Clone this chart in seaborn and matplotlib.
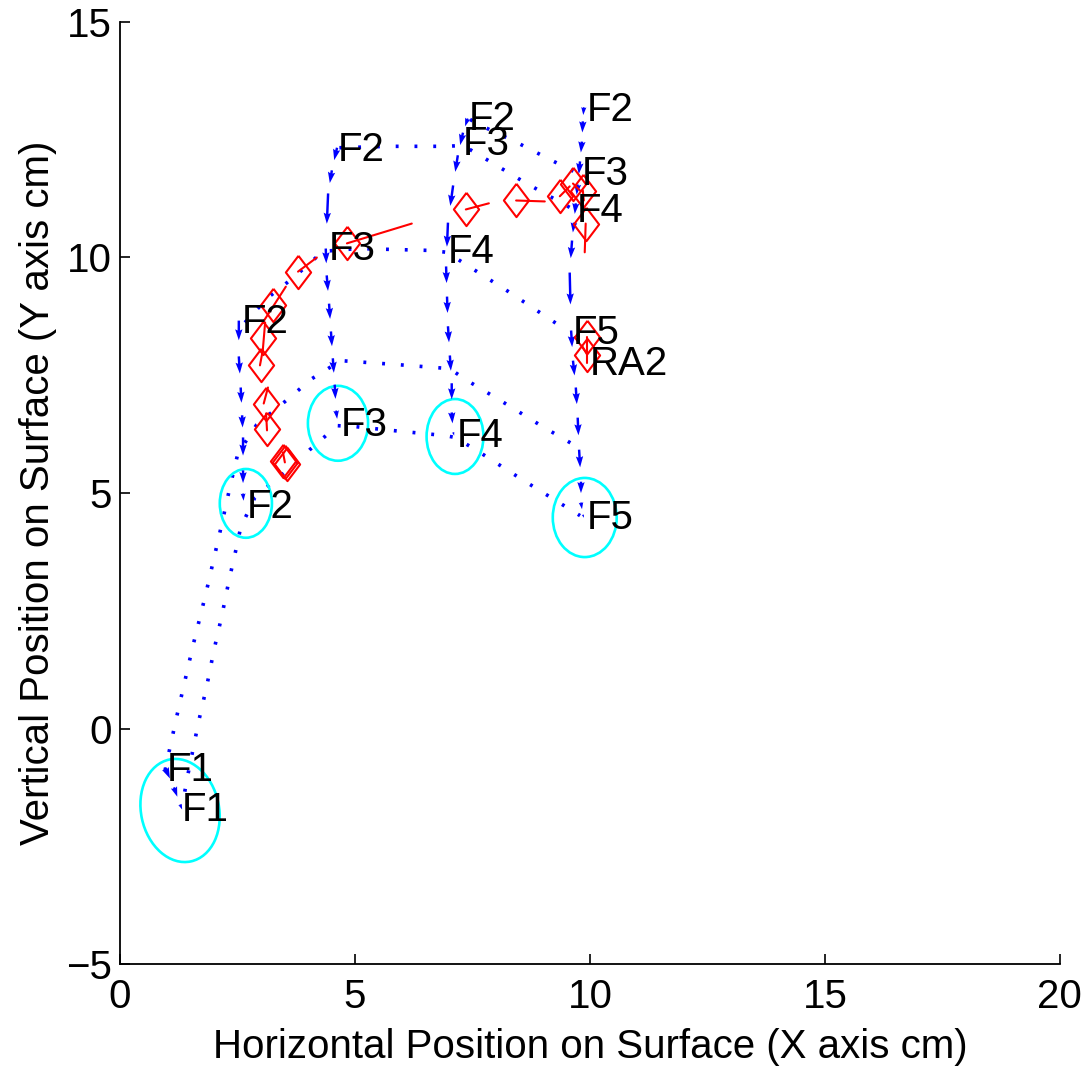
import numpy as np
import pandas as pd
import matplotlib
matplotlib.use("Agg")
import matplotlib.pyplot as plt
from matplotlib.patches import Ellipse
import seaborn as sns

sns.set_style("ticks", rc={"text.color": "black", "axes.labelcolor": "black",
                           "xtick.color": "black", "ytick.color": "black"})
plt.rcParams['font.family'] = ['Liberation Sans', 'DejaVu Sans']

_fontsize = 29

# finger regions (cyan ellipses)
ell_x = [1.28, 2.68, 4.64, 7.13, 9.89]
ell_y = [-1.74, 4.78, 6.48, 6.20, 4.48]
ell_w = [1.66, 1.11, 1.28, 1.21, 1.36]
ell_h = [2.21, 1.46, 1.59, 1.59, 1.68]
ell_ang = [12, 0, 0, 0, 0]

# dotted outlines joining the fingers
D1_x = [0.96, 1.21, 1.55, 1.83, 2.00, 2.17, 2.34, 2.51, 2.91, 3.51, 4.09, 4.70, 5.85, 7.02, 7.32, 8.30, 8.96, 9.68]
D1_y = [-0.89, 0.26, 1.74, 2.87, 3.61, 4.35, 5.12, 5.84, 6.45, 6.94, 7.43, 7.81, 7.73, 7.64, 7.43, 6.84, 6.43, 6.01]
D2_x = [1.38, 1.45, 1.53, 1.68, 1.85, 2.00, 2.17, 2.32, 2.49, 2.57, 2.87, 3.19, 3.77, 4.04, 4.34, 4.62, 5.00, 5.77, 6.91, 7.13, 7.60, 8.55, 9.79]
D2_y = [-1.34, -0.96, -0.57, 0.17, 0.91, 1.66, 2.40, 3.14, 3.89, 4.27, 4.90, 5.18, 5.65, 5.92, 6.18, 6.43, 6.41, 6.33, 6.22, 6.18, 5.90, 5.29, 4.52]
D3_x = [2.66, 3.15, 3.45, 3.77, 4.32, 5.06, 6.60, 6.96, 7.30, 8.26, 9.51]
D3_y = [8.62, 9.15, 9.38, 9.64, 10.13, 10.19, 10.15, 10.11, 9.89, 9.28, 8.45]
D4_x = [4.67, 5.74, 6.96, 7.30, 7.62, 8.62, 9.72]
D4_y = [12.33, 12.36, 12.36, 12.38, 12.19, 11.59, 10.98]
D5_x = [7.45, 7.77, 8.45, 9.15, 9.79]
D5_y = [12.93, 12.76, 12.44, 12.08, 11.76]

# finger trajectories (blue arrows)
T0_x = [0.96, 1.15, 1.28, 1.36]
T0_y = [-0.83, -1.25, -1.61, -1.81]
T1_x = [2.53, 2.53, 2.57, 2.60, 2.62, 2.62, 2.62, 2.64]
T1_y = [8.66, 7.90, 7.24, 6.65, 6.18, 5.48, 4.99, 4.71]
T2_x = [4.62, 4.51, 4.43, 4.38, 4.40, 4.45, 4.49, 4.53, 4.57, 4.60, 4.64]
T2_y = [12.33, 11.85, 11.36, 10.19, 9.62, 9.02, 8.43, 7.86, 7.30, 6.75, 6.43]
T3_x = [7.40, 7.30, 7.19, 7.09, 6.98, 6.94, 6.96, 6.98, 7.02, 7.06, 7.06, 7.09, 7.13]
T3_y = [12.95, 12.65, 12.17, 11.53, 10.74, 9.81, 9.17, 8.54, 7.92, 7.33, 6.71, 6.29, 6.16]
T4_x = [9.87, 9.85, 9.83, 9.79, 9.74, 9.70, 9.66, 9.62, 9.57, 9.60, 9.64, 9.70, 9.74, 9.77, 9.81, 9.81, 9.85, 9.89]
T4_y = [13.19, 12.89, 12.46, 12.04, 11.55, 11.15, 10.74, 10.36, 9.68, 8.45, 7.81, 7.24, 6.60, 5.92, 5.24, 4.80, 4.54, 4.42]

# red diamonds and their direction lines
dia_x = [4.83, 3.79, 3.26, 3.04, 3.00, 3.11, 3.13, 3.47, 3.51, 3.55, 7.36, 8.43, 9.36, 9.64, 9.85, 9.91, 9.94, 9.94]
dia_y = [10.30, 9.70, 9.00, 8.30, 7.71, 6.90, 6.35, 5.69, 5.65, 5.61, 11.02, 11.21, 11.30, 11.57, 11.42, 10.72, 8.32, 7.94]
seg_x0 = [4.83, 3.79, 3.04, 3.04, 2.98, 3.06, 3.13, 3.51, 7.36, 8.43, 9.36, 9.64, 9.85, 9.91, 9.94, 9.94]
seg_y0 = [10.30, 9.70, 8.62, 8.03, 7.71, 6.90, 6.33, 5.65, 11.02, 11.21, 11.30, 11.57, 11.42, 10.72, 8.32, 7.94]
seg_x1 = [6.21, 4.19, 3.53, 3.09, 3.04, 3.15, 3.11, 3.47, 7.85, 9.04, 9.57, 9.79, 9.87, 9.89, 9.94, 9.83]
seg_y1 = [10.72, 10.00, 9.38, 8.62, 8.03, 7.24, 6.69, 5.86, 11.15, 11.19, 11.51, 11.42, 11.21, 10.11, 7.77, 8.13]

# text labels
lab_txt = ["F1", "F1", "F2", "F2", "F2", "F3", "F3", "F2", "F3", "F4", "F4", "F2", "F3", "F4", "F5", "RA2", "F5"]
lab_x = [1.00, 1.32, 2.60, 2.70, 4.64, 4.45, 4.70, 7.43, 7.30, 6.98, 7.17, 9.94, 9.83, 9.72, 9.64, 10.00, 9.94]
lab_y = [-0.89, -1.74, 8.64, 4.71, 12.29, 10.17, 6.45, 12.93, 12.40, 10.11, 6.20, 13.14, 11.78, 10.98, 8.39, 7.73, 4.48]

fig = plt.figure(figsize=(10.9, 10.72), dpi=100)
ax = fig.add_axes([0.110, 0.1007, 0.8624, 0.8788])

outlines = pd.concat([
    pd.DataFrame({"x": cx, "y": cy, "curve": name})
    for name, cx, cy in [("D1", D1_x, D1_y), ("D2", D2_x, D2_y), ("D3", D3_x, D3_y),
                         ("D4", D4_x, D4_y), ("D5", D5_x, D5_y)]
])
sns.lineplot(data=outlines, x="x", y="y", units="curve", estimator=None, sort=False,
             color="blue", lw=2.6, linestyle=(0, (0.8, 4.4)), ax=ax, legend=False)

for cx, cy, w, h, a in zip(ell_x, ell_y, ell_w, ell_h, ell_ang):
    ax.add_patch(Ellipse((cx, cy), w, h, angle=a, fill=False, ec="cyan", lw=1.9, zorder=2))

for tx, ty in [(T0_x, T0_y), (T1_x, T1_y), (T2_x, T2_y), (T3_x, T3_y), (T4_x, T4_y)]:
    tx = np.array(tx); ty = np.array(ty)
    ax.quiver(tx[:-1], ty[:-1], np.diff(tx) * 0.55, np.diff(ty) * 0.55, angles="xy",
              scale_units="xy", scale=1, color="blue", width=0.0026, headwidth=3.0,
              headlength=4.5, headaxislength=4.0, zorder=3)

for x0, y0, x1, y1 in zip(seg_x0, seg_y0, seg_x1, seg_y1):
    ax.plot([x0, x1], [y0, y1], color="red", lw=1.5, zorder=4)
diamond = [(0, 1.32), (1, 0), (0, -1.32), (-1, 0), (0, 1.32)]
ax.plot(dia_x, dia_y, linestyle="none", marker=diamond, ms=24, mfc="none", mec="red", mew=1.5, zorder=4)

for s, tx, ty in zip(lab_txt, lab_x, lab_y):
    ax.text(tx, ty, s, ha="left", va="center", fontsize=_fontsize, color="black", zorder=5)

ax.set_xlim(0, 20)
ax.set_ylim(-5, 15)
ax.set_xticks([0, 5, 10, 15, 20])
ax.set_yticks([-5, 0, 5, 10, 15])
ax.set_yticklabels(["\u22125", "0", "5", "10", "15"])
ax.tick_params(direction="in", length=7, width=1.2, labelsize=_fontsize, colors="black")
ax.tick_params(axis="x", pad=10)
ax.tick_params(axis="y", pad=6)
sns.despine(ax=ax)
for sp in ["left", "bottom"]:
    ax.spines[sp].set_color("black")
    ax.spines[sp].set_linewidth(1.3)
ax.set_xlabel("Horizontal Position on Surface (X axis cm)", fontsize=_fontsize, labelpad=9)
ax.set_ylabel("Vertical Position on Surface (Y axis cm)", fontsize=_fontsize, labelpad=6)

fig.savefig("out.png", dpi=100)
